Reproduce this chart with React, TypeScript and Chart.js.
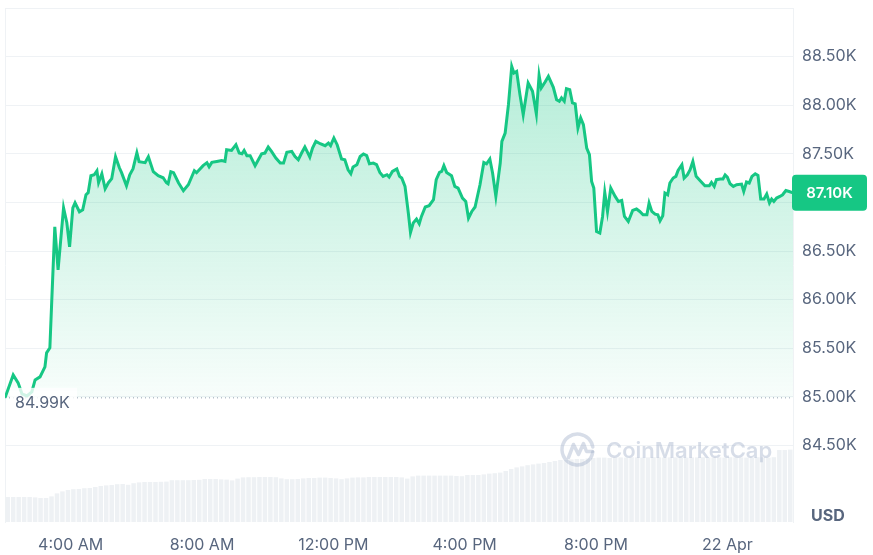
import React, { useEffect, useRef } from 'react';
import { Chart, registerables } from 'chart.js';

Chart.register(...registerables);

// ---- data ----
const baselinePrice = 84990;
const baselineLabel = '84.99K';
const lastPriceLabel = '87.10K';
const currencyLabel = 'USD';
const watermarkText = 'CoinMarketCap';

// x tick positions: minutes since 02:00 AM (21 Apr)
const tickMinutes = [120, 360, 600, 840, 1080, 1320];
const tickLabels = ['4:00 AM', '8:00 AM', '12:00 PM', '4:00 PM', '8:00 PM', '22 Apr'];
const priceTicks = [84500, 85000, 85500, 86000, 86500, 87000, 87500, 88000, 88500];

// price series: minutes since 02:00 AM and price in USD
const times = [
  0, 15, 24, 31, 40, 49, 55, 64, 73, 76, 82, 85, 91, 97, 107, 113, 118, 124, 128, 136,
  142, 148, 152, 157, 163, 168, 171, 177, 183, 189, 195, 202, 209, 213, 222, 228, 234, 241, 245, 256,
  262, 271, 280, 289, 295, 298, 303, 308, 317, 326, 335, 346, 350, 362, 369, 373, 378, 387, 396, 402,
  405, 414, 422, 428, 433, 437, 442, 448, 457, 463, 469, 475, 481, 487, 495, 503, 509, 515, 524, 530,
  536, 542, 548, 552, 557, 562, 568, 576, 585, 591, 595, 601, 607, 615, 621, 627, 632, 636, 643, 649,
  655, 661, 666, 673, 679, 685, 691, 698, 702, 708, 716, 721, 725, 731, 737, 741, 746, 752, 757, 761,
  768, 775, 783, 788, 794, 798, 802, 807, 816, 822, 828, 836, 842, 847, 853, 859, 868, 875, 880, 886,
  891, 897, 905, 908, 914, 920, 926, 930, 935, 941, 947, 956, 964, 971, 976, 980, 987, 993, 1002, 1008,
  1013, 1017, 1022, 1026, 1032, 1037, 1042, 1047, 1052, 1057, 1063, 1068, 1072, 1076, 1081, 1087, 1092, 1096, 1101, 1107,
  1115, 1121, 1127, 1132, 1139, 1147, 1154, 1160, 1166, 1173, 1177, 1182, 1188, 1193, 1197, 1202, 1206, 1211, 1215, 1221,
  1226, 1230, 1237, 1241, 1247, 1252, 1257, 1263, 1270, 1279, 1287, 1291, 1296, 1300, 1307, 1312, 1316, 1320, 1325, 1331,
  1337, 1346, 1350, 1355, 1360, 1365, 1371, 1376, 1381, 1387, 1392, 1397, 1401, 1405, 1410, 1416, 1421, 1427, 1433, 1440,
];
const prices = [
  84990, 85226, 85144, 85031, 85010, 85051, 85175, 85206, 85309, 85453, 85504, 85926, 86750, 86307, 86945, 86791, 86544, 86945, 86997, 86904,
  86925, 87079, 87100, 87275, 87285, 87326, 87203, 87295, 87141, 87203, 87244, 87470, 87357, 87306, 87172, 87285, 87347, 87511, 87419, 87409,
  87470, 87316, 87275, 87254, 87203, 87192, 87316, 87306, 87203, 87120, 87182, 87326, 87306, 87378, 87409, 87367, 87412, 87422, 87432, 87422,
  87542, 87535, 87594, 87508, 87501, 87535, 87481, 87481, 87378, 87439, 87501, 87508, 87570, 87525, 87457, 87405, 87405, 87515, 87525, 87473,
  87439, 87508, 87570, 87525, 87467, 87560, 87628, 87604, 87584, 87611, 87584, 87663, 87594, 87447, 87439, 87336, 87295, 87364, 87388, 87473,
  87498, 87481, 87398, 87405, 87388, 87309, 87268, 87285, 87261, 87319, 87344, 87268, 87251, 87165, 86894, 86691, 86788, 86829, 86781, 86856,
  86953, 86966, 87028, 87234, 87309, 87319, 87378, 87309, 87275, 87165, 87148, 87045, 87010, 86839, 86907, 86953, 87182, 87412, 87398, 87447,
  87303, 87062, 87405, 87628, 87714, 88006, 88400, 88332, 88348, 88109, 87903, 88229, 88143, 87910, 88307, 88178, 88239, 88297, 88184, 88057,
  88040, 88075, 88040, 88170, 88160, 88023, 88013, 87766, 87869, 87800, 87560, 87491, 87216, 87148, 86701, 86685, 86856, 87103, 86907, 87148,
  87062, 87010, 87020, 86856, 86804, 86918, 86932, 86907, 86873, 86873, 86994, 86907, 86880, 86873, 86811, 86863, 87097, 87079, 87200, 87251,
  87268, 87329, 87388, 87251, 87285, 87336, 87422, 87268, 87226, 87172, 87172, 87206, 87165, 87234, 87241, 87241, 87282, 87261, 87192, 87165,
  87182, 87189, 87113, 87210, 87200, 87268, 87295, 87278, 87035, 87035, 87086, 86994, 87035, 87010, 87045, 87062, 87079, 87123, 87113, 87100,
];

// 24h volume (billions USD), one bar per 10 minutes, centred at minute 5, 15, 25, ...
const volumeStartMinute = 5;
const volumeStepMinutes = 10;
const volumes = [
  12.5, 12.5, 12.5, 12.5, 12.5, 12.3, 12.0, 12.0, 12.8, 14.3, 15.3, 16.0, 16.4, 16.5, 16.9, 17.0, 17.5, 18.0, 18.3, 18.5,
  18.9, 19.0, 18.6, 19.4, 19.8, 20.0, 20.0, 20.0, 20.1, 20.2, 20.9, 20.9, 20.9, 20.9, 21.0, 21.1, 21.5, 21.5, 21.5, 21.3,
  21.2, 20.8, 21.7, 22.3, 22.4, 22.4, 22.5, 22.5, 22.5, 22.4, 21.8, 21.4, 21.4, 21.5, 21.8, 22.0, 22.0, 22.2, 22.2, 22.0,
  21.8, 21.4, 21.8, 22.2, 22.3, 22.3, 22.5, 22.5, 22.5, 22.5, 22.5, 22.5, 22.3, 21.7, 22.8, 23.2, 23.2, 23.2, 23.2, 23.2,
  23.2, 23.2, 23.0, 22.9, 23.5, 23.5, 23.5, 23.8, 24.2, 24.4, 24.7, 25.5, 26.5, 27.3, 27.8, 28.4, 28.8, 29.2, 29.5, 30.0,
  30.5, 31.0, 31.0, 31.3, 31.5, 31.5, 31.8, 32.0, 32.2, 32.2, 32.0, 32.3, 32.3, 32.2, 32.4, 32.3, 32.2, 32.3, 32.4, 32.3,
  32.2, 32.3, 32.3, 32.4, 32.2, 32.3, 32.3, 32.4, 32.2, 32.3, 32.3, 32.2, 32.4, 32.3, 32.3, 32.2, 32.3, 32.4, 32.3, 32.2,
  32.4, 36.0, 36.0, 36.2,
];

// ---- styling ----
const GREEN = '#16c784';
const TEXT = '#58667e';
const GRID = '#eff2f5';
const FONT = 'Inter, "Noto Sans", sans-serif';

const overlayPlugin = {
  id: 'cmcOverlay',
  afterDatasetsDraw(chart: any) {
    const { ctx, scales } = chart;
    const y = scales.y.getPixelForValue(baselinePrice);
    ctx.save();
    ctx.fillStyle = 'rgba(255,255,255,0.8)';
    ctx.fillRect(10, y - 10, 67, 25);
    ctx.fillStyle = TEXT;
    ctx.font = `16px ${FONT}`;
    ctx.textAlign = 'left';
    ctx.textBaseline = 'middle';
    ctx.fillText(baselineLabel, 15, y + 5);
    ctx.restore();
  },
  afterDraw(chart: any) {
    const { ctx, scales, chartArea } = chart;
    ctx.save();
    // watermark
    const wc = 'rgba(160,174,200,0.42)';
    ctx.strokeStyle = wc;
    ctx.lineWidth = 3.5;
    ctx.lineCap = 'round';
    ctx.lineJoin = 'round';
    const cx = 577.5, cy = 449.5, r = 15.5;
    ctx.beginPath();
    ctx.arc(cx, cy, r, 0.05 * Math.PI, 1.95 * Math.PI);
    ctx.stroke();
    ctx.beginPath();
    ctx.moveTo(cx - 9, cy + 8);
    ctx.lineTo(cx - 4, cy - 5);
    ctx.lineTo(cx + 1, cy + 5);
    ctx.lineTo(cx + 6, cy - 6);
    ctx.lineTo(cx + 9, cy + 2);
    ctx.lineTo(cx + 15, cy + 2);
    ctx.stroke();
    ctx.fillStyle = wc;
    ctx.font = `600 22px ${FONT}`;
    ctx.textAlign = 'left';
    ctx.textBaseline = 'middle';
    ctx.fillText(watermarkText, 606, 451);

    // last price badge
    const lastY = scales.y.getPixelForValue(prices[prices.length - 1]);
    const bx = chartArea.right - 1, bw = 75, bh = 36, by = lastY - bh / 2;
    ctx.fillStyle = GREEN;
    ctx.beginPath();
    (ctx as any).roundRect(bx, by, bw, bh, 4);
    ctx.fill();
    ctx.fillStyle = '#ffffff';
    ctx.font = `600 15px ${FONT}`;
    ctx.textAlign = 'center';
    ctx.textBaseline = 'middle';
    ctx.fillText(lastPriceLabel, bx + bw / 2, lastY + 0.5);

    // currency label
    ctx.fillStyle = TEXT;
    ctx.font = `bold 16px ${FONT}`;
    ctx.textAlign = 'left';
    ctx.fillText(currencyLabel, 811, 516);
    ctx.restore();
  },
};

export default function App() {
  const canvasRef = useRef<HTMLCanvasElement | null>(null);

  useEffect(() => {
    const canvas = canvasRef.current;
    if (!canvas) return;
    Chart.defaults.font.family = FONT;

    const pricePoints = times.map((t, i) => ({ x: t, y: prices[i] }));
    const volumePoints = volumes.map((v, i) => ({ x: volumeStartMinute + i * volumeStepMinutes, y: v }));
    const basePoints = [
      { x: times[0], y: baselinePrice },
      { x: times[times.length - 1], y: baselinePrice },
    ];

    const chart = new Chart(canvas, {
      data: {
        datasets: [
          {
            type: 'line',
            label: 'Price',
            data: pricePoints,
            yAxisID: 'y',
            borderColor: GREEN,
            borderWidth: 3,
            pointRadius: 0,
            tension: 0,
            fill: { value: baselinePrice },
            backgroundColor: (c: any) => {
              const area = c.chart.chartArea;
              if (!area) return 'rgba(22,199,132,0.2)';
              const yb = c.chart.scales.y.getPixelForValue(baselinePrice);
              const g = c.chart.ctx.createLinearGradient(0, area.top + 50, 0, yb);
              g.addColorStop(0, 'rgba(22,199,132,0.32)');
              g.addColorStop(1, 'rgba(22,199,132,0.03)');
              return g;
            },
            order: 1,
          } as any,
          {
            type: 'line',
            label: 'Open',
            data: basePoints,
            yAxisID: 'y',
            borderColor: '#98a1b3',
            borderWidth: 1,
            borderDash: [1, 3],
            pointRadius: 0,
            fill: false,
            order: 2,
          } as any,
          {
            type: 'bar',
            label: 'Volume',
            data: volumePoints,
            yAxisID: 'yv',
            backgroundColor: '#eef1f4',
            barPercentage: 0.82,
            categoryPercentage: 1,
            order: 3,
          } as any,
        ],
      },
      options: {
        responsive: false,
        animation: false,
        devicePixelRatio: 1,
        layout: { padding: { top: 8, left: 5, right: 0, bottom: 0 } },
        plugins: { legend: { display: false }, tooltip: { enabled: false } },
        scales: {
          x: {
            type: 'linear',
            min: 0,
            max: 1440,
            offset: false,
            grid: { display: false, drawTicks: false, tickLength: 0 },
            border: { display: false },
            afterBuildTicks: (s: any) => {
              s.ticks = tickMinutes.map((v) => ({ value: v }));
            },
            afterFit: (s: any) => {
              s.height = 33;
              s.paddingLeft = 0;
              s.paddingRight = 0;
            },
            ticks: {
              autoSkip: false,
              maxRotation: 0,
              padding: 14,
              color: TEXT,
              font: { size: 16, family: FONT },
              callback: (v: any) => {
                const i = tickMinutes.indexOf(Number(v));
                return i >= 0 ? tickLabels[i] : '';
              },
            },
          },
          xTop: {
            type: 'linear',
            position: 'top',
            min: 0,
            max: 1440,
            grid: { display: false, drawTicks: false, tickLength: 0 },
            border: { display: true, color: GRID },
            ticks: { display: false },
            afterFit: (s: any) => {
              s.height = 0;
              s.paddingLeft = 0;
              s.paddingRight = 0;
            },
          },
          y: {
            position: 'right',
            min: 83713,
            max: 89000,
            grid: { color: GRID, lineWidth: 1, drawTicks: false, tickLength: 0 },
            border: { display: true, color: GRID },
            afterBuildTicks: (s: any) => {
              s.ticks = priceTicks.map((v) => ({ value: v }));
            },
            afterFit: (s: any) => {
              s.width = 80;
              s.paddingTop = 0;
              s.paddingBottom = 0;
            },
            ticks: {
              padding: 9,
              color: TEXT,
              font: { size: 16, family: FONT },
              callback: (v: any) => (Number(v) / 1000).toFixed(2) + 'K',
            },
          },
          yv: {
            position: 'left',
            min: 0,
            max: 257,
            grid: { display: false, drawTicks: false, tickLength: 0 },
            border: { display: true, color: GRID },
            ticks: { display: false },
            afterFit: (s: any) => {
              s.width = 0;
              s.paddingTop = 0;
              s.paddingBottom = 0;
            },
          },
        },
      },
      plugins: [overlayPlugin],
    } as any);

    return () => chart.destroy();
  }, []);

  return (
    <div style={{ position: 'fixed', left: 0, top: 0, width: 873, height: 555, background: '#ffffff' }}>
      <canvas ref={canvasRef} width={873} height={555} style={{ display: 'block' }} />
    </div>
  );
}
